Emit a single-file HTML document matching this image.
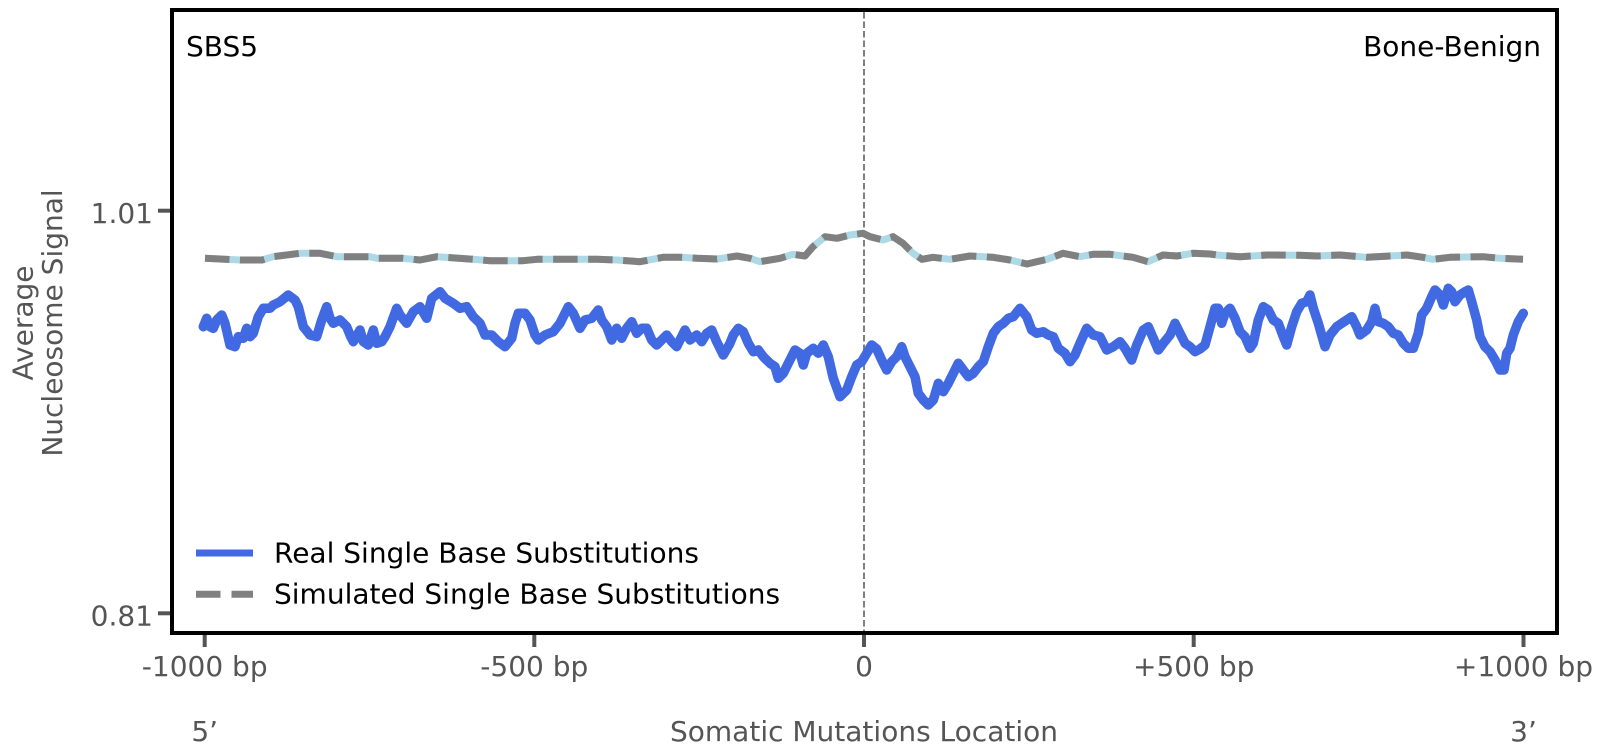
<!DOCTYPE html>
<html>
<head>
<meta charset="utf-8">
<style>
  html, body { margin: 0; padding: 0; background: #ffffff; }
  svg { display: block; }
  text { font-family: "DejaVu Sans", "Liberation Sans", sans-serif; }
</style>
</head>
<body>
<svg width="1603" height="756" viewBox="0 0 1603 756" xmlns="http://www.w3.org/2000/svg">
  <rect x="0" y="0" width="1603" height="756" fill="#ffffff"/>

  <!-- center dashed vertical line -->
  <line x1="864" y1="12" x2="864" y2="631" stroke="#808080" stroke-width="2" stroke-dasharray="6.5,3"/>

  <!-- simulated: lightblue underlay -->
  <polyline fill="none" stroke="#add8e6" stroke-width="7" stroke-linejoin="round"
    points="205,258.3 220,259 240,260 262,260 273,256.7 300,253.3 320,253.3 337,256.7 370,256.7 377,258.3 403,258.3 420,260 437,256.7 473,259.3 490,260.7 523,260.7 537,259.3 547,259.3 597,259.3 617,260 640,261.7 663,257.3 680,257.3 697,258.3 717,259 737,256 750,258.3 760,261.7 780,258.3 793,254.3 805,256 813,246.7 825,236.7 837,238.3 850,235 863,233.3 870,236.7 883,240 893,236.7 903,243.3 913,253.3 922,259.3 933,257.3 950,259.3 970,256 993,257.3 1010,260 1027,264 1047,259.3 1063,253.3 1080,256.7 1093,254.3 1110,254.3 1133,257.3 1148,261.7 1163,255 1177,256 1193,253.3 1210,254 1217,255 1240,256.7 1267,255 1300,255.3 1317,256 1340,255 1367,257.3 1407,255 1423,257.3 1433,259.3 1450,257.3 1483,256.7 1500,258.3 1523,259.3"/>
  <!-- simulated: gray dashed -->
  <polyline fill="none" stroke="#808080" stroke-width="7" stroke-linejoin="round" stroke-dasharray="24.5,10.5"
    points="205,258.3 220,259 240,260 262,260 273,256.7 300,253.3 320,253.3 337,256.7 370,256.7 377,258.3 403,258.3 420,260 437,256.7 473,259.3 490,260.7 523,260.7 537,259.3 547,259.3 597,259.3 617,260 640,261.7 663,257.3 680,257.3 697,258.3 717,259 737,256 750,258.3 760,261.7 780,258.3 793,254.3 805,256 813,246.7 825,236.7 837,238.3 850,235 863,233.3 870,236.7 883,240 893,236.7 903,243.3 913,253.3 922,259.3 933,257.3 950,259.3 970,256 993,257.3 1010,260 1027,264 1047,259.3 1063,253.3 1080,256.7 1093,254.3 1110,254.3 1133,257.3 1148,261.7 1163,255 1177,256 1193,253.3 1210,254 1217,255 1240,256.7 1267,255 1300,255.3 1317,256 1340,255 1367,257.3 1407,255 1423,257.3 1433,259.3 1450,257.3 1483,256.7 1500,258.3 1523,259.3"/>

  <!-- real: royal blue -->
  <polyline fill="none" stroke="#4169e1" stroke-width="9.5" stroke-linejoin="round" stroke-linecap="round"
    points="203.3,326.7 206.7,318.3 210,326.7 213.3,328.3 216.7,320 221.7,315 225,323.3 230,345 235,346.7 238.3,336.7 243.3,338.3 246.7,328.3 250,336.7 253.3,333.3 258.3,316.7 263.3,308.3 270,308.3 273.3,305 280,301.7 288.3,295 295,300 298.3,306.7 303.3,326.7 310,335 316.7,336.7 321.7,320 326.7,306.7 330,318.3 333.3,323.3 340,320 346.7,326.7 350,335 353.3,341.7 360,330 363.3,341.7 368.3,345 373.3,330 376.7,343.3 381.7,341.7 385,336.7 390,326.7 396.7,308.3 400,315 406.7,323.3 413.3,311.7 420,306.7 426.7,318.3 431.7,298.3 440,291.7 445,298.3 453.3,303.3 460,308.3 466.7,306.7 473.3,316.7 480,323.3 485,335 491.7,335 498.3,341.7 505,346.7 511.7,338.3 515,323.3 518.3,313.3 525,313.3 530,320 535,335 538.3,340 545,335 553.3,331.7 560,323.3 568.3,306.7 573.3,313.3 580,328.3 585,320 591.7,318.3 598.3,310 601.7,320 606.7,326.7 611.7,340 616.7,328.3 621.7,338.3 626.7,328.3 631.7,321.7 636.7,333.3 641.7,328.3 646.7,328.3 651.7,340 656.7,345 661.7,340 666.7,335 671.7,341.7 676.7,346.7 680,340 685,330 690,340 696.7,335 701.7,341.7 706.7,333.3 711.7,330 716.7,341.7 723.3,355 730,343.3 733.3,335 738.3,328.3 743.3,331.7 748.3,343.3 753.3,351.7 758.3,350 763.3,356.7 770,363.3 775,366.7 778.3,378.3 783.3,373.3 788.3,363.3 795,350 800,353.3 803.3,365 806.7,353.3 813.3,348.3 818.3,353.3 823.3,345 828.3,356.7 833.3,378.3 840,396.7 846.7,390 851.7,376.7 856.7,365 861.7,361.7 866.7,353.3 871.7,345 876.7,349 881.7,360 886.7,370 891.7,361.7 896.7,356.7 901.7,346.7 905,356.7 910,366.7 915,376.7 918.3,393.3 923.3,400 928.3,405 933.3,400 938.3,383.3 943.3,391.7 948.3,383.3 953.3,373.3 958.3,363.3 963.3,370 968.3,376.7 973.3,373.3 978.3,366.7 983.3,361.7 988.3,346.7 993.3,333.3 998.3,326.7 1003.3,323.3 1008.3,318.3 1013.3,316.7 1020,308.3 1026.7,316.7 1031.7,330 1036.7,333.3 1043.3,331.7 1048.3,335 1053.3,336.7 1058.3,348.3 1065,353.3 1070,361.7 1075,355 1080,343.3 1086.7,328.3 1093.3,335 1100,336.7 1106.7,350 1113.3,346.7 1120,341.7 1125,348.3 1131.7,360 1136.7,345 1143.3,330 1148.3,326.7 1153.3,338.3 1158.3,350 1163.3,343.3 1170,335 1175,323.3 1180,333.3 1185,343.3 1190,346.7 1195,351.7 1200,349 1205,345 1210,326.7 1215,308.3 1218.3,308.3 1221.7,323.3 1225,313.3 1230,308.3 1235,318.3 1240,331.7 1245,336.7 1250,348.3 1253.3,343.3 1258.3,320 1263.3,306.7 1268.3,310 1273.3,320 1278.3,323.3 1283.3,336.7 1286.7,345 1291.7,326.7 1296.7,311.7 1301.7,303.3 1306.7,301.7 1310,295 1313.3,308.3 1318.3,323.3 1325,346.7 1330,335 1336.7,326.7 1341.7,323.3 1346.7,320 1351.7,316.7 1356.7,326.7 1360,335 1366.7,330 1371.7,321.7 1375,308.3 1378.3,321.7 1383.3,323.3 1388.3,326.7 1393.3,333.3 1398.3,335 1403.3,343.3 1408.3,348.3 1413.3,348.3 1418.3,333.3 1421.7,315 1426.7,308.3 1431.7,296.7 1435,290 1440,295 1443.3,305 1448.3,288.3 1451.7,291.7 1455,301.7 1460,295 1465,291.7 1468.3,290 1471.7,301.7 1476.7,320 1480,336.7 1485,346.7 1490,351.7 1495,360 1500,370 1504,370 1506.7,353.3 1510,348.3 1513.3,335 1518.3,321.7 1523.3,313.3"/>

  <!-- frame -->
  <rect x="172" y="10" width="1385" height="623" fill="none" stroke="#000000" stroke-width="4"/>

  <!-- y ticks -->
  <line x1="158" y1="210.7" x2="170" y2="210.7" stroke="#555555" stroke-width="4"/>
  <line x1="158" y1="613.3" x2="170" y2="613.3" stroke="#555555" stroke-width="4"/>
  <text x="153" y="223" font-size="28" fill="#555555" text-anchor="end">1.01</text>
  <text x="153" y="625.5" font-size="28" fill="#555555" text-anchor="end">0.81</text>

  <!-- x ticks -->
  <line x1="204.7" y1="635" x2="204.7" y2="647" stroke="#555555" stroke-width="4"/>
  <line x1="534.3" y1="635" x2="534.3" y2="647" stroke="#555555" stroke-width="4"/>
  <line x1="864" y1="635" x2="864" y2="647" stroke="#555555" stroke-width="4"/>
  <line x1="1193.7" y1="635" x2="1193.7" y2="647" stroke="#555555" stroke-width="4"/>
  <line x1="1523.5" y1="635" x2="1523.5" y2="647" stroke="#555555" stroke-width="4"/>
  <g font-size="28" fill="#555555" text-anchor="middle">
    <text x="204.7" y="676">-1000 bp</text>
    <text x="534.3" y="676">-500 bp</text>
    <text x="864" y="676">0</text>
    <text x="1193.7" y="676">+500 bp</text>
    <text x="1523.5" y="676">+1000 bp</text>
    <text x="204.7" y="741">5’</text>
    <text x="864" y="741">Somatic Mutations Location</text>
    <text x="1523.5" y="741">3’</text>
  </g>

  <!-- y label -->
  <g font-size="28" fill="#555555" text-anchor="middle">
    <text transform="translate(32.5,323) rotate(-90)">Average</text>
    <text transform="translate(62,323) rotate(-90)">Nucleosome Signal</text>
  </g>

  <!-- annotations -->
  <text x="186" y="56" font-size="28" fill="#000000">SBS5</text>
  <text x="1541" y="56" font-size="28" fill="#000000" text-anchor="end">Bone-Benign</text>

  <!-- legend -->
  <line x1="196" y1="553" x2="253" y2="553" stroke="#4169e1" stroke-width="7"/>
  <text x="274" y="562.5" font-size="28" fill="#000000">Real Single Base Substitutions</text>
  <line x1="196" y1="594.3" x2="253" y2="594.3" stroke="#808080" stroke-width="7" stroke-dasharray="24.5,11"/>
  <text x="274" y="603.5" font-size="28" fill="#000000">Simulated Single Base Substitutions</text>
</svg>
</body>
</html>
